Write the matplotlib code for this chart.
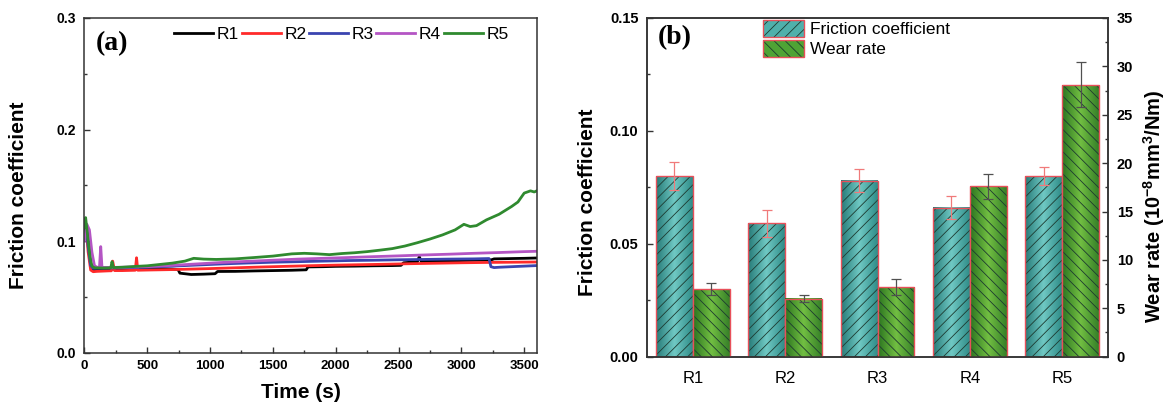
import numpy as np
import matplotlib
matplotlib.use("Agg")
import matplotlib.pyplot as plt
from matplotlib.colors import LinearSegmentedColormap
from matplotlib.patches import Patch
from matplotlib.legend_handler import HandlerTuple
from matplotlib.ticker import MultipleLocator

plt.rcParams['font.family'] = ['Liberation Sans', 'DejaVu Sans']
plt.rcParams['hatch.linewidth'] = 0.6
plt.rcParams['mathtext.fontset'] = 'custom'
plt.rcParams['mathtext.rm'] = 'Liberation Sans'
plt.rcParams['mathtext.bf'] = 'Liberation Sans:bold'

# ---------------- data: panel (a) ----------------
series_labels = ["R1", "R2", "R3", "R4", "R5"]
series_colors = ["#000000", "#ff2a2a", "#3a44b0", "#b455c4", "#2f8a2f"]

t_R1 = [0, 15, 30, 50, 70, 100, 200, 300, 400, 500, 600, 700, 745, 760, 850, 950, 1040, 1060,
        1200, 1350, 1500, 1650, 1765, 1780, 1900, 2000, 2150, 2300, 2450, 2520, 2540, 2650,
        2665, 2680, 2800, 3000, 3200, 3240, 3260, 3400, 3500, 3600]
mu_R1 = [0.108, 0.115, 0.100, 0.080, 0.0745, 0.0745, 0.0748, 0.0750, 0.0752, 0.0750, 0.0750,
         0.0748, 0.0745, 0.0712, 0.0700, 0.0703, 0.0707, 0.0727, 0.0728, 0.0732, 0.0735,
         0.0738, 0.0742, 0.0768, 0.0770, 0.0773, 0.0775, 0.0778, 0.0780, 0.0782, 0.0805,
         0.0815, 0.0860, 0.0818, 0.0820, 0.0825, 0.0830, 0.0832, 0.0840, 0.0843, 0.0845, 0.0848]

t_R2 = [0, 15, 30, 50, 70, 100, 200, 215, 225, 240, 300, 405, 415, 425, 500, 600, 700, 800,
        900, 1000, 1200, 1400, 1600, 1800, 2000, 2200, 2400, 2600, 2800, 3000, 3200, 3400, 3600]
mu_R2 = [0.105, 0.110, 0.090, 0.074, 0.0725, 0.0728, 0.0733, 0.0733, 0.0820, 0.0735, 0.0735,
         0.0738, 0.0850, 0.0738, 0.0740, 0.0742, 0.0744, 0.0747, 0.0750, 0.0753, 0.0760,
         0.0767, 0.0773, 0.0779, 0.0784, 0.0788, 0.0792, 0.0797, 0.0801, 0.0805, 0.0808,
         0.0810, 0.0812]

t_R3 = [0, 15, 30, 50, 70, 100, 300, 500, 700, 900, 1100, 1300, 1500, 1700, 1900, 2100, 2300,
        2500, 2700, 2900, 3100, 3220, 3235, 3260, 3300, 3400, 3500, 3600]
mu_R3 = [0.105, 0.112, 0.095, 0.078, 0.0755, 0.0757, 0.0760, 0.0765, 0.0775, 0.0785, 0.0795,
         0.0803, 0.0810, 0.0815, 0.0820, 0.0825, 0.0828, 0.0832, 0.0835, 0.0838, 0.0840,
         0.0843, 0.0770, 0.0762, 0.0765, 0.0770, 0.0775, 0.0780]

t_R4 = [0, 20, 40, 60, 80, 100, 120, 130, 140, 150, 200, 300, 500, 700, 900, 1100, 1300, 1500,
        1700, 1900, 2100, 2300, 2500, 2700, 2900, 3100, 3300, 3500, 3600]
mu_R4 = [0.100, 0.115, 0.110, 0.090, 0.078, 0.0765, 0.0765, 0.0950, 0.0765, 0.0763, 0.0763,
         0.0765, 0.0770, 0.0782, 0.0795, 0.0808, 0.0818, 0.0828, 0.0838, 0.0845, 0.0852,
         0.0860, 0.0867, 0.0875, 0.0882, 0.0890, 0.0897, 0.0905, 0.0908]

t_R5 = [0, 10, 25, 45, 60, 80, 150, 210, 220, 230, 300, 400, 500, 600, 700, 800, 870, 950,
        1050, 1200, 1350, 1500, 1650, 1750, 1850, 1950, 2050, 2150, 2250, 2350, 2450, 2550,
        2650, 2750, 2850, 2950, 3020, 3070, 3120, 3200, 3300, 3400, 3450, 3500, 3550, 3580, 3600]
mu_R5 = [0.112, 0.121, 0.105, 0.085, 0.0775, 0.0760, 0.0758, 0.0760, 0.0815, 0.0762, 0.0765,
         0.0772, 0.0778, 0.0790, 0.0802, 0.0820, 0.0845, 0.0838, 0.0835, 0.0840, 0.0852,
         0.0865, 0.0885, 0.0890, 0.0885, 0.0878, 0.0888, 0.0895, 0.0905, 0.0918, 0.0932,
         0.0955, 0.0985, 0.1018, 0.1055, 0.1100, 0.1150, 0.1130, 0.1138, 0.1190, 0.1240,
         0.1310, 0.1350, 0.1430, 0.1450, 0.1440, 0.1450]

times = [t_R1, t_R2, t_R3, t_R4, t_R5]
mus = [mu_R1, mu_R2, mu_R3, mu_R4, mu_R5]

# ---------------- data: panel (b) ----------------
categories = ["R1", "R2", "R3", "R4", "R5"]
friction = [0.080, 0.059, 0.078, 0.066, 0.080]
friction_err = [0.006, 0.006, 0.005, 0.005, 0.004]
wear = [7.0, 6.0, 7.2, 17.6, 28.1]
wear_err = [0.65, 0.35, 0.85, 1.3, 2.35]

# ---------------- figure ----------------
fig = plt.figure(figsize=(11.72, 4.09), dpi=100)
axa = fig.add_axes([0.072, 0.138, 0.386, 0.818])
axb = fig.add_axes([0.5518, 0.128, 0.3939, 0.828])

spine_col = "#333333"

# ---- panel (a) ----
for t, m, lab, c in zip(times, mus, series_labels, series_colors):
    axa.plot(t, m, color=c, lw=2.0, label=lab, solid_joinstyle='round')
axa.set_xlim(0, 3600)
axa.set_ylim(0, 0.3)
axa.xaxis.set_major_locator(MultipleLocator(500))
axa.xaxis.set_minor_locator(MultipleLocator(250))
axa.yaxis.set_major_locator(MultipleLocator(0.1))
axa.yaxis.set_minor_locator(MultipleLocator(0.05))
axa.yaxis.set_major_formatter(matplotlib.ticker.FormatStrFormatter('%.1f'))
axa.tick_params(which='both', direction='in', colors=spine_col, top=False, right=False)
axa.tick_params(which='major', length=4, width=1)
axa.tick_params(which='minor', length=2.5, width=1)
axa.tick_params(axis='x', labelsize=9.5, pad=5, labelcolor='black')
axa.tick_params(axis='y', labelsize=10, pad=6, labelcolor='black')
for lbl in axa.get_xticklabels() + axa.get_yticklabels():
    lbl.set_fontweight('bold')
for s in axa.spines.values():
    s.set_color(spine_col)
    s.set_linewidth(1.1)
axa.set_xlabel("Time (s)", fontsize=15, fontweight='bold')
axa.xaxis.set_label_coords(0.478, -0.09)
axa.set_ylabel("Friction coefficient", fontsize=15, fontweight='bold')
axa.yaxis.set_label_coords(-0.125, 0.47)
axa.text(0.026, 0.922, "(a)", transform=axa.transAxes, fontsize=20, fontweight='bold',
         family=['Liberation Serif', 'DejaVu Serif'], ha='left', va='center')
axa.legend(loc='center left', bbox_to_anchor=(0.199, 0.95), ncol=5, frameon=False,
           fontsize=12.5, handlelength=2.25, handletextpad=0.2, columnspacing=0.15,
           borderpad=0, borderaxespad=0)

# ---- panel (b) ----
x = np.arange(1, len(categories) + 1)
w = 0.4
axb2 = axb.twinx()

teal_cmap = LinearSegmentedColormap.from_list("teal", ["#267a77", "#70c9c4", "#2f8c88"])
green_cmap = LinearSegmentedColormap.from_list("grn", ["#2b7420", "#72bf42", "#357f28"])
red_edge = "#e8505a"
hatch_col = "#1d3a30"

def gradient_bars(ax, xpos, heights, cmap, hatch, zbase):
    bars = ax.bar(xpos, heights, width=w, color='none', edgecolor='none', zorder=zbase)
    grad = np.linspace(0, 1, 128)[None, :]
    for r in bars:
        x0, bw, h = r.get_x(), r.get_width(), r.get_height()
        ax.imshow(grad, extent=(x0, x0 + bw, 0, h), cmap=cmap, aspect='auto',
                  interpolation='bilinear', zorder=zbase)
    ax.bar(xpos, heights, width=w, color='none', edgecolor=hatch_col, linewidth=0,
           hatch=hatch, zorder=zbase + 0.1)
    ax.bar(xpos, heights, width=w, color='none', edgecolor=red_edge, linewidth=1.0,
           zorder=zbase + 0.2)

gradient_bars(axb, x - w / 2, friction, teal_cmap, '///', 2)
axb.errorbar(x - w / 2, friction, yerr=friction_err, fmt='none', ecolor='#f07a7a',
             elinewidth=0.9, capsize=3.5, capthick=0.9, zorder=5)
gradient_bars(axb2, x + w / 2, wear, green_cmap, '\\\\\\', 2)
axb2.errorbar(x + w / 2, wear, yerr=wear_err, fmt='none', ecolor='#505050',
              elinewidth=0.9, capsize=3.5, capthick=0.9, zorder=5)

axb.set_xlim(0.5, 5.5)
axb.set_ylim(0, 0.15)
axb2.set_ylim(0, 35)
axb.set_xticks(x)
axb.set_xticklabels(categories)
axb.yaxis.set_major_locator(MultipleLocator(0.05))
axb.yaxis.set_minor_locator(MultipleLocator(0.025))
axb.yaxis.set_major_formatter(matplotlib.ticker.FormatStrFormatter('%.2f'))
axb2.yaxis.set_major_locator(MultipleLocator(5))
axb2.yaxis.set_minor_locator(MultipleLocator(2.5))

axb.tick_params(axis='x', length=0, labelsize=12, pad=10)
axb.tick_params(axis='y', which='both', direction='in', colors=spine_col, labelcolor='black',
                labelsize=10.5, pad=6)
axb.tick_params(axis='y', which='major', length=4, width=1)
axb.tick_params(axis='y', which='minor', length=2.5, width=1)
axb2.tick_params(axis='y', which='both', direction='in', colors=spine_col, labelcolor='black',
                 labelsize=10.5, pad=6)
axb2.tick_params(axis='y', which='major', length=4, width=1)
axb2.tick_params(axis='y', which='minor', length=2.5, width=1)
for lbl in axb.get_yticklabels() + axb2.get_yticklabels():
    lbl.set_fontweight('bold')
for a in (axb, axb2):
    for s in a.spines.values():
        s.set_color(spine_col)
        s.set_linewidth(1.1)

axb.set_ylabel("Friction coefficient", fontsize=15, fontweight='bold')
axb.yaxis.set_label_coords(-0.108, 0.456)
axb2.set_ylabel("Wear rate (10$^{\\mathbf{-8}}$mm$^{\\mathbf{3}}$/Nm)", fontsize=14.5,
                fontweight='bold')
axb2.yaxis.set_label_coords(1.072, 0.443)
axb.text(0.024, 0.943, "(b)", transform=axb.transAxes, fontsize=20, fontweight='bold',
         family=['Liberation Serif', 'DejaVu Serif'], ha='left', va='center')

h_fric = (Patch(facecolor="#4fb0ab", edgecolor=hatch_col, linewidth=0, hatch='///'),
          Patch(facecolor='none', edgecolor=red_edge, linewidth=1.0))
h_wear = (Patch(facecolor="#4fa335", edgecolor=hatch_col, linewidth=0, hatch='\\\\\\'),
          Patch(facecolor='none', edgecolor=red_edge, linewidth=1.0))
axb2.legend([h_fric, h_wear], ["Friction coefficient", "Wear rate"],
            handler_map={tuple: HandlerTuple(ndivide=1, pad=0)},
            loc='upper left', bbox_to_anchor=(0.2526, 0.995), frameon=False,
            fontsize=12.5, handlelength=2.36, handleheight=1.2, handletextpad=0.33,
            labelspacing=0.12, borderpad=0, borderaxespad=0)

fig.savefig("out.png", dpi=100)
